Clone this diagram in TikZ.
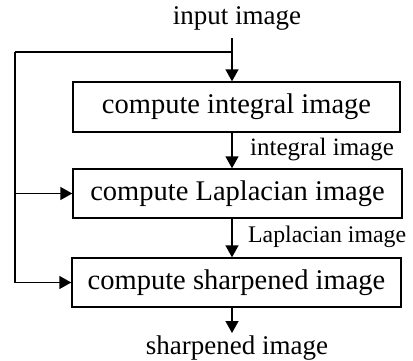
\documentclass[tikz,border=0pt]{standalone}
\usepackage{fontspec}
\setmainfont{Liberation Serif}
\usetikzlibrary{arrows.meta}
\begin{document}
\begin{tikzpicture}[x=1pt,y=-1pt,
  box/.style={draw,line width=1.4pt,inner sep=0pt,font=\fontsize{28.5}{32}\selectfont},
  lbl/.style={inner sep=0pt,font=\fontsize{25}{28}\selectfont},
  io/.style={inner sep=0pt,font=\fontsize{27}{30}\selectfont},
  conn/.style={line width=1.4pt},
  arr/.style={conn,-{Triangle[width=13pt,length=12pt]}}]
\useasboundingbox (0,0) rectangle (413,360);
\node[box,minimum width=327pt,minimum height=50pt] (b1) at (236.5,107) {compute integral image};
\node[box,minimum width=329pt,minimum height=49pt] (b2) at (237.5,193.5) {compute Laplacian image};
\node[box,minimum width=329pt,minimum height=49pt] (b3) at (236.5,282.5) {compute sharpened image};
\node[io] (in) at (237,18) {input image};
\node[io] (out) at (237,348) {sharpened image};
\node[lbl,anchor=west] (l1) at (250,150) {integral image};
\node[lbl,anchor=west,font=\fontsize{23.8}{27}\selectfont] (l2) at (248,237) {Laplacian image};
\coordinate (top) at (232,38);
\coordinate (j) at (232,52);
\coordinate (L) at (15,52);
\coordinate (bot) at (232,333);
\draw[arr] (top) -- (top |- b1.north);
\draw[conn] (j) -- (L);
\draw[arr] (L) |- (b3.west);
\draw[arr] (L |- b2.west) -- (b2.west);
\draw[arr] (b1.south -| top) -- (b2.north -| top);
\draw[arr] (b2.south -| top) -- (b3.north -| top);
\draw[arr] (b3.south -| top) -- (bot);
\end{tikzpicture}
\end{document}
